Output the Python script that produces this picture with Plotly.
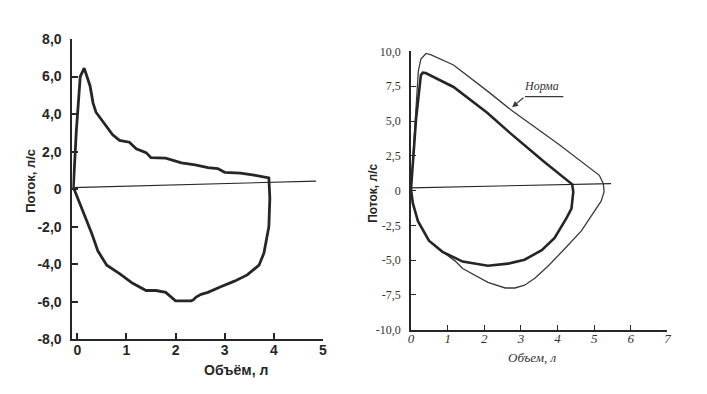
import plotly.graph_objects as go

# ---------------- Data ----------------
# Left panel: flow-volume loop of a patient
left_volume = [-0.08, -0.02, 0.06, 0.14, 0.26, 0.32, 0.38, 0.52, 0.72, 0.86, 1.06, 1.2, 1.4, 1.5,
               1.8, 2.12, 2.4, 2.66, 2.86, 3.0, 3.32, 3.6, 3.9, 3.92, 3.9, 3.8, 3.7, 3.46, 3.2,
               2.92, 2.66, 2.52, 2.42, 2.36, 2.32, 2.0, 1.92, 1.8, 1.6, 1.4, 1.12, 0.86, 0.6,
               0.42, 0.3, 0.16, 0.0, -0.08]
left_flow = [0.1, 3.1, 6.0, 6.45, 5.5, 4.6, 4.1, 3.6, 2.9, 2.6, 2.5, 2.15, 1.95, 1.68,
             1.65, 1.4, 1.3, 1.15, 1.1, 0.9, 0.85, 0.75, 0.6, -0.48, -2.0, -3.4, -4.05, -4.57, -4.9,
             -5.2, -5.5, -5.6, -5.75, -5.9, -5.95, -5.95, -5.75, -5.5, -5.4, -5.4, -5.0, -4.5, -4.05,
             -3.3, -2.4, -1.5, -0.5, 0.1]
left_base_volume = [-0.1, 4.86]
left_base_flow = [0.08, 0.43]

# Right panel: patient (thick) and norm (thin)
right_pat_volume = [0.0, 0.14, 0.27, 0.32, 0.4, 0.6, 1.16, 2.08, 2.7, 3.6, 4.32, 4.4, 4.43, 4.38,
                    4.24, 3.92, 3.57, 3.1, 2.65, 2.1, 1.41, 0.86, 0.49, 0.19, 0.05, 0.0]
right_pat_flow = [0.1, 5.2, 8.3, 8.48, 8.45, 8.2, 7.45, 5.6, 4.15, 2.14, 0.6, 0.45, -0.1, -1.3,
                  -2.0, -3.4, -4.28, -4.97, -5.25, -5.4, -5.1, -4.4, -3.6, -2.2, -0.9, 0.1]
right_norm_volume = [0.0, 0.1, 0.2, 0.27, 0.41, 0.55, 1.16, 2.08, 2.78, 4.05, 5.14, 5.25, 5.27, 5.19,
                     5.0, 4.65, 4.19, 3.73, 3.38, 3.1, 2.84, 2.57, 2.1, 1.76, 1.41, 1.2, 0.86, 0.49,
                     0.19, 0.05, 0.0]
right_norm_flow = [0.1, 4.5, 8.6, 9.45, 9.86, 9.75, 9.03, 7.17, 5.7, 3.3, 1.1, 0.5, -0.1, -0.76,
                   -1.5, -2.9, -4.2, -5.45, -6.3, -6.8, -7.0, -7.0, -6.6, -6.1, -5.6, -5.05, -4.4, -3.6,
                   -2.2, -0.9, 0.1]
right_base_volume = [0.0, 5.46]
right_base_flow = [0.2, 0.5]
norm_leader_volume = [4.16, 3.11]
norm_leader_flow = [6.76, 6.76]
norm_arrow_tip = (2.76, 6.0)

left_yticks = [-8, -6, -4, -2, 0, 2, 4, 6, 8]
left_yticktext = ["-8,0", "-6,0", "-4,0", "-2,0", "0", "2,0", "4,0", "6,0", "8,0"]
left_xticks = [0, 1, 2, 3, 4, 5]
right_yticks = [-10, -7.5, -5, -2.5, 0, 2.5, 5, 7.5, 10]
right_yticktext = ["-10,0", "-7,5", "-5,0", "-2,5", "0", "2,5", "5,0", "7,5", "10,0"]
right_xticks = [0, 1, 2, 3, 4, 5, 6, 7]

# ---------------- Figure ----------------
W, H = 707, 394
INK = "#262626"

def px(x):
    return x / W

def py(y):
    return 1 - y / H

fig = go.Figure()
fig.add_trace(go.Scatter(x=left_base_volume, y=left_base_flow, mode="lines",
                         line=dict(color=INK, width=1.1), xaxis="x", yaxis="y", showlegend=False))
fig.add_trace(go.Scatter(x=left_volume, y=left_flow, mode="lines",
                         line=dict(color=INK, width=2.8), xaxis="x", yaxis="y", showlegend=False))

fig.add_trace(go.Scatter(x=right_base_volume, y=right_base_flow, mode="lines",
                         line=dict(color=INK, width=1.1), xaxis="x2", yaxis="y2", showlegend=False))
fig.add_trace(go.Scatter(x=right_norm_volume, y=right_norm_flow, mode="lines",
                         line=dict(color="#3a3a3a", width=1.3), xaxis="x2", yaxis="y2", showlegend=False))
fig.add_trace(go.Scatter(x=right_pat_volume, y=right_pat_flow, mode="lines",
                         line=dict(color=INK, width=2.6), xaxis="x2", yaxis="y2", showlegend=False))
fig.add_trace(go.Scatter(x=norm_leader_volume, y=norm_leader_flow, mode="lines",
                         line=dict(color="#3a3a3a", width=1.2), xaxis="x2", yaxis="y2", showlegend=False))

bold_sans = dict(family="Liberation Sans, Arial, sans-serif", size=13, color=INK, weight="bold")
serif = dict(family="Liberation Serif, Times New Roman, serif", size=12, color="#333")
serif_it = dict(family="Liberation Serif, Times New Roman, serif", size=13, color="#333", style="italic")

axis_common = dict(showgrid=False, zeroline=False, showline=True, linecolor=INK,
                   ticks="inside", tickcolor=INK, fixedrange=True)

def label(text, x, y, font, angle=0):
    return dict(text=text, x=px(x), y=py(y), xref="paper", yref="paper", xanchor="center",
                yanchor="middle", textangle=angle, showarrow=False, font=font)

fig.update_layout(
    width=W, height=H, margin=dict(l=0, r=0, t=0, b=0),
    paper_bgcolor="white", plot_bgcolor="white", showlegend=False,
    xaxis=dict(domain=[px(62), px(315)], range=[-0.1, 5.0], tickvals=left_xticks,
               ticklen=6, tickwidth=1.5, linewidth=2, tickfont=dict(bold_sans, size=14), anchor="y",
               ticklabelstandoff=-3, **axis_common),
    yaxis=dict(domain=[py(337), py(24)], range=[-8, 8], tickvals=left_yticks,
               ticktext=left_yticktext, ticklen=6, tickwidth=1.5, linewidth=2,
               tickfont=dict(bold_sans, size=14), anchor="x", ticklabelstandoff=6, **axis_common),
    xaxis2=dict(domain=[px(404), px(663)], range=[0, 7], tickvals=right_xticks,
                ticklen=5, tickwidth=1.2, linewidth=1.8, tickfont=serif_it, anchor="y2",
                ticklabelstandoff=-4, **axis_common),
    yaxis2=dict(domain=[py(327), py(37)], range=[-10, 10], tickvals=right_yticks,
                ticktext=right_yticktext, ticklen=5, tickwidth=1.2, linewidth=1.8,
                tickfont=serif, anchor="x2", ticklabelstandoff=6, **axis_common),
    annotations=[
        label("Поток, л/с", 19, 172, dict(bold_sans, size=13), -90),
        label("Объём, л", 227, 369, dict(bold_sans, size=14)),
        label("Поток, л/с", 366, 185, dict(bold_sans, size=12), -90),
        label("Объем, л", 527, 356, serif_it),
        dict(text="Норма", x=3.57, y=7.5, xref="x2", yref="y2", showarrow=False,
             font=dict(serif_it, size=12)),
        dict(x=norm_arrow_tip[0], y=norm_arrow_tip[1], xref="x2", yref="y2",
             ax=norm_leader_volume[1], ay=norm_leader_flow[1], axref="x2", ayref="y2",
             text="", showarrow=True, arrowhead=2, arrowsize=1, arrowwidth=1.2,
             arrowcolor="#3a3a3a"),
    ],
)

fig.write_html("out.html")
